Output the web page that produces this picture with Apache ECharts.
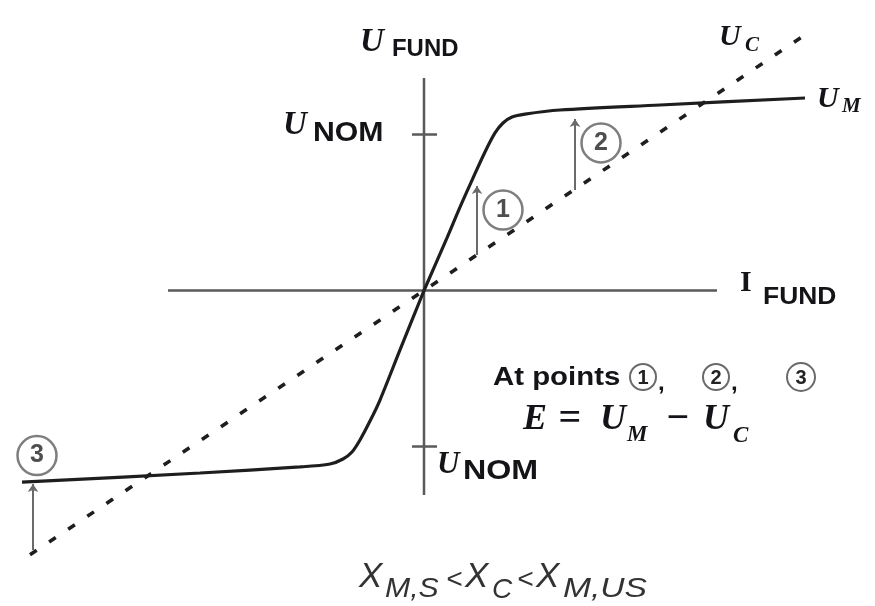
<!DOCTYPE html>
<html>
<head>
<meta charset="utf-8">
<script src="https://cdn.jsdelivr.net/npm/echarts@6/dist/echarts.min.js"></script>
<style>
  html, body { margin: 0; padding: 0; background: #ffffff; }
  #chart { width: 875px; height: 606px; }
</style>
</head>
<body>
<div id="chart"></div>
<script>
// Machine characteristic U_M versus fundamental current (x: I_FUND, y: U_FUND in units of U_NOM)
const umNegative = [
  [-4.02, -1.228], [-2.24, -1.170], [-1.24, -1.131], [-0.94, -1.112],
  [-0.81, -1.080], [-0.72, -1.035], [-0.64, -0.958], [-0.54, -0.837],
  [-0.44, -0.702], [-0.24, -0.381], [0, 0]
];
const umPositive = [
  [0, 0], [0.23, 0.337], [0.36, 0.535], [0.49, 0.721], [0.61, 0.888],
  [0.71, 1.010], [0.79, 1.074], [0.88, 1.112], [1.01, 1.131],
  [1.36, 1.157], [2.36, 1.189], [3.81, 1.234]
];
// Compensator characteristic U_C (straight line through the origin)
const ucLine = [[-3.94, -1.694], [3.79, 1.630]];

// Axes extents and the nominal-voltage ticks
const iAxisExtent = [-2.56, 2.93];
const uAxisExtent = [-1.311, 1.362];
const nomTicks = [1, -1];
const tickHalfWidth = [-0.12, 0.13];

// Error arrows E = U_M - U_C at the three operating points (x, from U_C, to U_M side)
const errorArrows = [
  [0.53, 0.228, 0.670],
  [1.51, 0.644, 1.100],
  [-3.91, -1.663, -1.240]
];
// Point markers ①, ②, ③
const pointNames = ['1', '2', '3'];
const pointPos = [[0.79, 0.516], [1.77, 0.946], [-3.87, -1.058]];

const chart = echarts.init(document.getElementById('chart'), null, { renderer: 'canvas' });

const serifBI = (px) => 'italic bold ' + px + 'px "Liberation Serif", "DejaVu Serif", serif';
const serifB = (px) => 'bold ' + px + 'px "Liberation Serif", "DejaVu Serif", serif';
const sansB = (px) => 'bold ' + px + 'px "Liberation Sans", Arial, sans-serif';
const sansI = (px) => 'italic ' + px + 'px "Liberation Sans", Arial, sans-serif';

function txt(text, x, y, font, extra, sx) {
  return {
    type: 'text', x: x, y: y, z: 10, scaleX: sx || 1,
    style: Object.assign({
      text: text, font: font, fill: '#141418',
      align: 'left', verticalAlign: 'middle',
      textAlign: 'left', textVerticalAlign: 'middle'
    }, extra || {})
  };
}
function ring(cx, cy, r, digit) {
  return [
    { type: 'circle', z: 10, shape: { cx: cx, cy: cy, r: r },
      style: { fill: 'none', stroke: '#6a6a6a', lineWidth: 2 } },
    txt(digit, cx, cy + 1, sansB(20), { align: 'center', textAlign: 'center', fill: '#222' })
  ];
}

const axisStyle = { color: '#5a5a5a', width: 2.5 };
const series = [];

// horizontal and vertical axes
series.push({ type: 'line', data: iAxisExtent.map(v => [v, 0]), symbol: 'none',
  lineStyle: axisStyle, silent: true, z: 1 });
series.push({ type: 'line', data: uAxisExtent.map(v => [0, v]), symbol: 'none',
  lineStyle: axisStyle, silent: true, z: 1 });
nomTicks.forEach(t => {
  series.push({ type: 'line', data: tickHalfWidth.map(v => [v, t]), symbol: 'none',
    lineStyle: axisStyle, silent: true, z: 1 });
});

// U_C dashed line
series.push({ type: 'line', data: ucLine, symbol: 'none', silent: true, z: 3,
  lineStyle: { color: '#1e1e1e', width: 3.6, type: [8, 15] } });

// U_M solid curve
series.push({ type: 'line', data: umNegative, symbol: 'none', smooth: 0.3, silent: true, z: 4,
  lineStyle: { color: '#1e1e1e', width: 3.2 } });
series.push({ type: 'line', data: umPositive, symbol: 'none', smooth: 0.3, silent: true, z: 4,
  lineStyle: { color: '#1e1e1e', width: 3.2 } });

// error arrows
series.push({
  type: 'lines', coordinateSystem: 'cartesian2d', silent: true, z: 5,
  symbol: ['none', 'arrow'], symbolSize: 8,
  lineStyle: { color: '#6a6a6a', width: 2, opacity: 1 },
  data: errorArrows.map(a => ({ coords: [[a[0], a[1]], [a[0], a[2]]] }))
});

// circled point markers
series.push({
  type: 'scatter', silent: true, z: 6,
  symbol: 'circle', symbolSize: 39,
  itemStyle: { color: 'rgba(255,255,255,0)', borderColor: '#5e5e5e', borderWidth: 2.5 },
  label: { show: true, position: 'inside', formatter: p => p.name,
    fontFamily: '"Liberation Sans", Arial, sans-serif', fontWeight: 'bold', fontSize: 25, color: '#222' },
  data: pointPos.map((p, i) => ({ name: pointNames[i], value: p }))
});

const graphic = [
  // U FUND (vertical axis title)
  txt('U', 360, 42, serifBI(33)),
  txt('FUND', 392, 50, sansB(23), null, 1.04),
  // +U NOM
  txt('U', 283, 125, serifBI(33)),
  txt('NOM', 313, 133, sansB(28), null, 1.08),
  // -U NOM
  txt('U', 437, 465, serifBI(31)),
  txt('NOM', 463, 471, sansB(28), null, 1.15),
  // curve names
  txt('U', 719, 37, serifBI(30)),
  txt('C', 745, 46, serifBI(21)),
  txt('U', 817, 99, serifBI(30)),
  txt('M', 842, 107, serifBI(21)),
  // I FUND (horizontal axis title)
  txt('I', 740, 283, serifB(30)),
  txt('FUND', 763, 297, sansB(24), null, 1.1),
  // At points ①, ②, ③
  txt('At points', 493, 378, sansB(26), null, 1.13),
  ...ring(643, 377, 13, '1'),
  txt(',', 658, 383, sansB(24)),
  ...ring(716, 377, 13, '2'),
  txt(',', 731, 383, sansB(24)),
  ...ring(801, 377, 14, '3'),
  // E = U_M - U_C
  txt('E', 523, 420, serifBI(36)),
  txt('=', 570, 420, serifB(40), { align: 'center', textAlign: 'center' }),
  txt('U', 600, 420, serifBI(36)),
  txt('M', 627, 435, serifBI(23)),
  txt('\u2212', 678, 420, serifB(40), { align: 'center', textAlign: 'center' }),
  txt('U', 703, 420, serifBI(36)),
  txt('C', 733, 436, serifBI(23)),
  // X_M,S < X_C < X_M,US
  txt('X', 359, 577, sansI(35), { fill: '#333' }),
  txt('M,S', 385, 589, sansI(28), { fill: '#333' }, 1.08),
  txt('<', 446, 580, sansI(28), { fill: '#333' }),
  txt('X', 465, 577, sansI(35), { fill: '#333' }),
  txt('C', 492, 590, sansI(28), { fill: '#333' }),
  txt('<', 517, 580, sansI(28), { fill: '#333' }),
  txt('X', 536, 577, sansI(35), { fill: '#333' }),
  txt('M,US', 563, 589, sansI(28), { fill: '#333' }, 1.2)
];

chart.setOption({
  animation: false,
  backgroundColor: '#ffffff',
  grid: { left: 0, right: 0, top: 0, bottom: 0, containLabel: false },
  xAxis: { type: 'value', min: -4.24, max: 4.51, show: false },
  yAxis: { type: 'value', min: -2.0224, max: 1.8622, show: false },
  series: series,
  graphic: graphic
});
</script>
</body>
</html>
